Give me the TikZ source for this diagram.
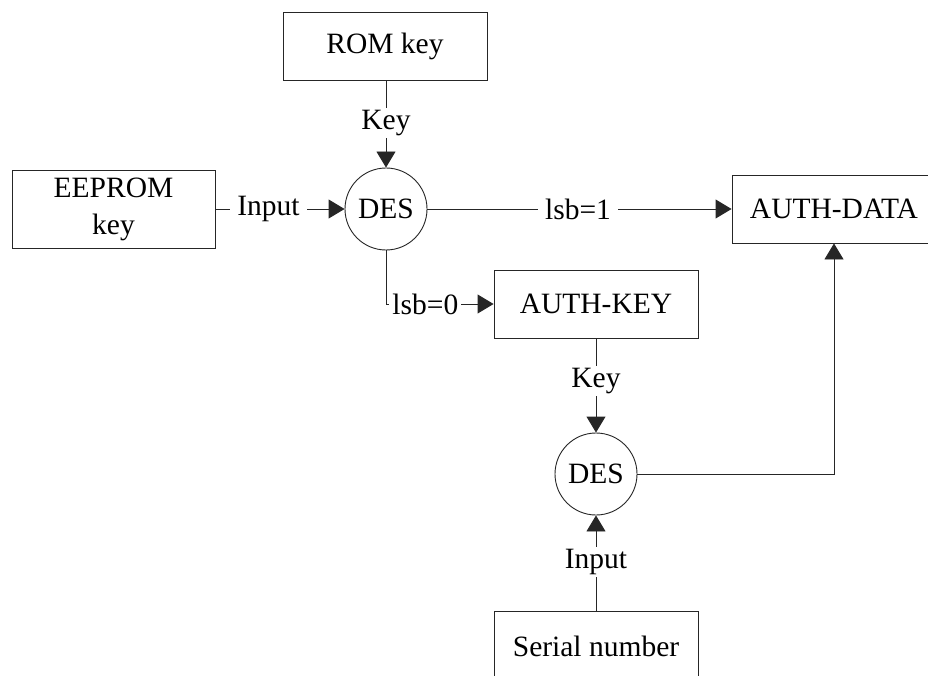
\documentclass[tikz,border=0pt]{standalone}
\usepackage{fontspec}
\setmainfont{Liberation Serif}
\usetikzlibrary{arrows.meta}
\begin{document}
\begin{tikzpicture}[x=1pt,y=-1pt,
  font=\fontsize{29.5}{34}\selectfont,
  box/.style={draw=black!85, line width=0.9pt, rectangle, minimum width=204pt, minimum height=68pt, inner sep=0pt, align=center},
  des/.style={draw=black!85, line width=0.9pt, circle, minimum size=82pt, inner sep=0pt},
  conn/.style={draw=black!85, line width=0.9pt},
  arr/.style={conn, -{Triangle[length=16pt,width=19pt]}},
  lbl/.style={fill=white, inner xsep=7pt, inner ysep=2pt}]
\clip (0,0) rectangle (928,676);
\fill[white] (0,0) rectangle (928,676);

\node[box] (rom) at (385,46) {ROM key};
\node[box, minimum width=203pt, minimum height=78pt, font=\fontsize{29.5}{37}\selectfont] (eeprom) at (113.5,209) {EEPROM\\key};
\node[des] (des1) at (386,209) {DES};
\node[box] (authdata) at (834,209) {AUTH-DATA};
\node[box] (authkey) at (596,304) {AUTH-KEY};
\node[des] (des2) at (596,474) {DES};
\node[box, minimum height=70pt] (serial) at (596,646) {Serial number};

\draw[arr] (rom.south -| des1.north) -- node[lbl, inner xsep=2pt, pos=0.49] (lkey1) {Key} (des1.north);
\draw[arr] (eeprom.east) -- node[lbl, pos=0.41] (linput1) {Input} (des1.west);
\draw[arr] (des1.east) -- node[lbl, pos=0.495] (llsb1) {lsb=1} (authdata.west);
\draw[arr] (des1.south) |- node[lbl, inner xsep=3pt, pos=0.5, anchor=west, xshift=3pt] (llsb0) {lsb=0\hspace{6pt}} (authkey.west);
\draw[arr] (authkey.south) -- node[lbl, inner xsep=2pt, pos=0.45] (lkey2) {Key} (des2.north);
\draw[arr] (serial.north) -- node[lbl, inner xsep=2pt, pos=0.51] (linput2) {Input} (des2.south);
\draw[arr] (des2.east) -| (authdata.south);
\end{tikzpicture}
\end{document}
